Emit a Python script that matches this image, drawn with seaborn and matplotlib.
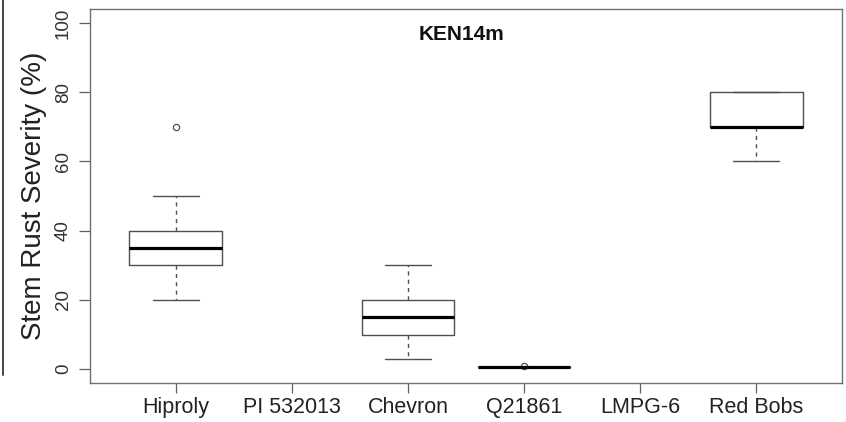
import matplotlib
matplotlib.use("Agg")
import matplotlib.pyplot as plt
import seaborn as sns
import pandas as pd
from matplotlib.lines import Line2D

# ---- data ----
categories = ["Hiproly", "PI 532013", "Chevron", "Q21861", "LMPG-6", "Red Bobs"]
hiproly = [20, 30, 30, 30, 35, 35, 35, 40, 40, 40, 50, 70]
pi532013 = []
chevron = [3, 10, 10, 10, 15, 15, 15, 20, 20, 20, 30]
q21861 = [0.5, 0.5, 0.5, 0.5, 0.5, 0.5, 0.5, 0.5, 0.5, 0.5, 1]
lmpg6 = []
red_bobs = [60, 70, 70, 70, 70, 70, 80, 80, 80]
y_ticks = [0, 20, 40, 60, 80, 100]
title = "KEN14m"
ylabel = "Stem Rust Severity (%)"

series = [hiproly, pi532013, chevron, q21861, lmpg6, red_bobs]
rows = []
for cat, vals in zip(categories, series):
    for v in vals:
        rows.append({"variety": cat, "severity": v})
df = pd.DataFrame(rows)

sns.set_theme(style="white")
plt.rcParams["font.family"] = ["Liberation Sans", "DejaVu Sans"]

fig = plt.figure(figsize=(8.46, 4.22), dpi=100)
ax = fig.add_axes([90 / 846, 1 - 383 / 422, 752 / 846, 374 / 422])

box_col = "#505050"
sns.boxplot(
    data=df, x="variety", y="severity", order=categories, ax=ax,
    fill=False, width=0.8, whis=1.5, linecolor=box_col, linewidth=1.0,
    boxprops=dict(color=box_col, linewidth=1.0),
    medianprops=dict(color="black", linewidth=2.3),
    whiskerprops=dict(color=box_col, linewidth=1.0, linestyle=(0, (3, 3))),
    capprops=dict(color=box_col, linewidth=1.0),
    flierprops=dict(marker="o", markersize=4.5, markerfacecolor="none",
                    markeredgecolor=box_col, markeredgewidth=0.9),
)

ax.set_xlim(0.26 - 1, 6.74 - 1)
ax.set_ylim(-4, 104)
ax.set_yticks(y_ticks)
ax.set_yticklabels([str(t) for t in y_ticks], rotation=90, va="center",
                   fontsize=13.5, color="#333333")
ax.tick_params(axis="x", labelsize=15.5, length=7, width=0.9,
               color="#606060", labelcolor="#222222", pad=3, bottom=True)
ax.tick_params(axis="y", length=8, width=0.9, color="#606060", pad=5, left=True)
ax.set_xlabel("")
ax.set_ylabel(ylabel, fontsize=20, color="#222222", labelpad=6)
for s in ax.spines.values():
    s.set_visible(True)
    s.set_color("#707070")
    s.set_linewidth(1.0)
ax.grid(False)
ax.text(0.5 - (473 - 468) / 752, 1 - (34 - 9) / 374, title, transform=ax.transAxes,
        ha="center", va="center", fontsize=15, fontweight="bold", color="#111111")

# thin crop edge line at the far left of the picture
fig.add_artist(Line2D([2.5 / 846, 2.5 / 846], [1 - 375 / 422, 1.0],
                      transform=fig.transFigure, color="#444444", linewidth=1.4))

fig.savefig("out.png", dpi=100, facecolor="white")
